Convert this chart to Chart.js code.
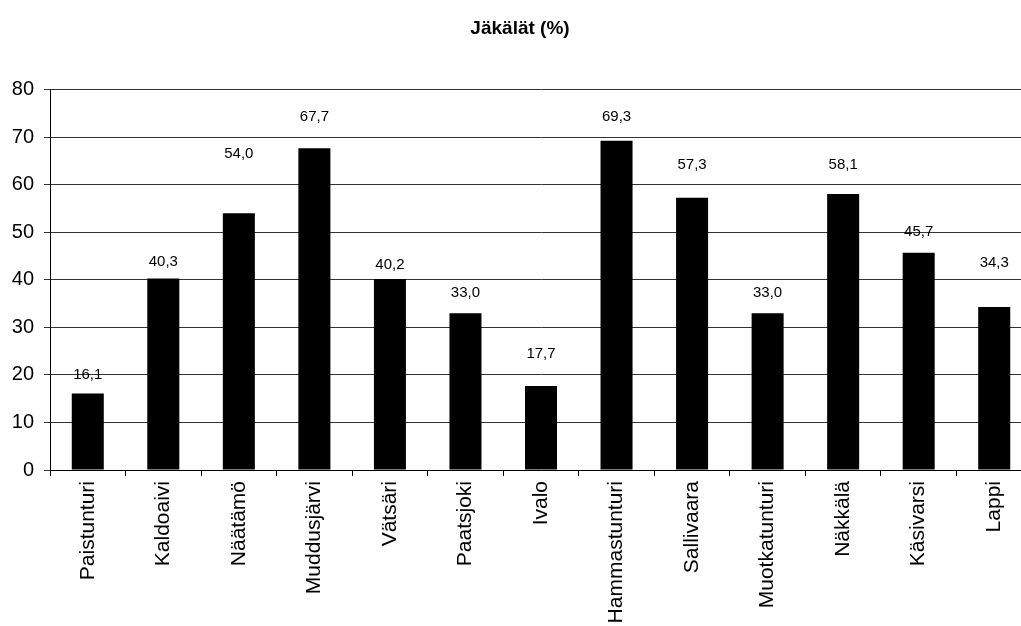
<!DOCTYPE html>
<html><head><meta charset="utf-8">
<script src="https://cdn.jsdelivr.net/npm/chart.js@4/dist/chart.umd.min.js"></script>
<style>html,body{margin:0;padding:0;overflow:hidden;background:#fff}</style>
</head><body>
<canvas id="c" width="1032" height="626" style="width:1032px;height:626px;display:block"></canvas>
<script>
const categories = ['Paistunturi','Kaldoaivi','Näätämö','Muddusjärvi','Vätsäri','Paatsjoki','Ivalo','Hammastunturi','Sallivaara','Muotkatunturi','Näkkälä','Käsivarsi','Lappi'];
const values = [16.1, 40.3, 54.0, 67.7, 40.2, 33.0, 17.7, 69.3, 57.3, 33.0, 58.1, 45.7, 34.3];
const yMin = 0, yMax = 80, yStep = 10;
const chartTitle = 'Jäkälät (%)';
// vertical lift of each value label above its bar (px), as placed in the original
const labelLift = [19, 17, 60, 31, 14, 20, 32, 24, 33, 20, 29, 21, 44];

const FONT = 'Liberation Sans, Arial, Helvetica, sans-serif';

const valueLabels = {
  id: 'valueLabels',
  afterDatasetsDraw(chart) {
    const ctx = chart.ctx;
    const meta = chart.getDatasetMeta(0);
    ctx.save();
    ctx.font = '15px ' + FONT;
    ctx.fillStyle = '#000';
    ctx.textAlign = 'center';
    ctx.textBaseline = 'middle';
    meta.data.forEach((bar, i) => {
      const txt = values[i].toFixed(1).replace('.', ',');
      ctx.fillText(txt, bar.x, bar.y - labelLift[i]);
    });
    ctx.restore();
  }
};

new Chart(document.getElementById('c'), {
  type: 'bar',
  data: {
    labels: categories,
    datasets: [{
      data: values,
      backgroundColor: '#000',
      borderWidth: 0,
      barPercentage: 1,
      categoryPercentage: 0.424
    }]
  },
  options: {
    responsive: false,
    animation: false,
    devicePixelRatio: 1,
    layout: { padding: { left: 8, right: 0, top: 0, bottom: 0 } },
    plugins: {
      legend: { display: false },
      tooltip: { enabled: false },
      title: {
        display: true,
        text: chartTitle,
        color: '#000',
        font: { family: FONT, size: 19, weight: 'bold' },
        padding: { top: 17, bottom: 50 }
      }
    },
    scales: {
      x: {
        grid: { offset: true, drawOnChartArea: false, tickLength: 6, color: '#000' },
        border: { color: '#000', width: 1 },
        ticks: { minRotation: 90, maxRotation: 90, color: '#000', padding: 5, font: { family: FONT, size: 21 } },
        afterFit(s) { s.height = 156; }
      },
      y: {
        min: yMin, max: yMax,
        grid: { color: '#333', tickLength: 6 },
        border: { color: '#000', width: 1 },
        ticks: { stepSize: yStep, color: '#000', padding: 10, font: { family: FONT, size: 20 } },
        afterFit(s) { s.width = 42; }
      }
    }
  },
  plugins: [valueLabels]
});
</script>
</body></html>
